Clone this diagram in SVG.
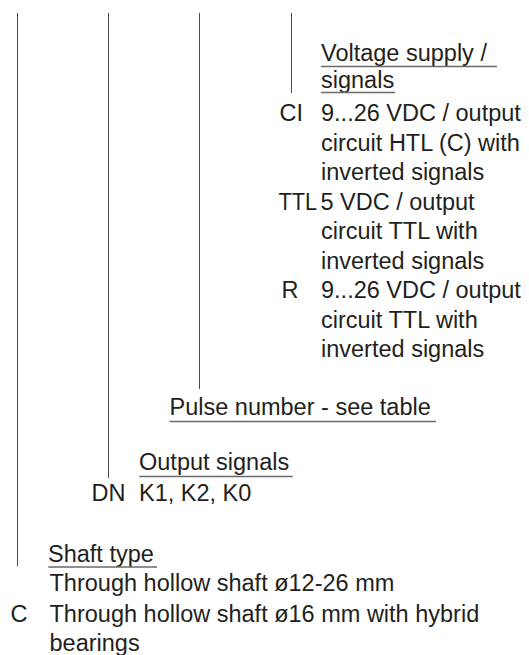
<svg xmlns="http://www.w3.org/2000/svg" width="529" height="655" viewBox="0 0 529 655">
<style>
  text { font-family: "Liberation Sans", Arial, "Helvetica", sans-serif; font-size: 23.5px; fill: #231f20; }
  .conn line { stroke: #4a4a4a; stroke-width: 1; fill: none; }
  .ul { stroke: #6a6a6a; stroke-width: 1.3; fill: none; }
</style>
<rect width="529" height="655" fill="#ffffff"/>
<g id="connectors" class="conn">
  <line x1="17.5" y1="13" x2="17.5" y2="566"/>
  <line x1="108.5" y1="13" x2="108.5" y2="478"/>
  <line x1="199.5" y1="13" x2="199.5" y2="389"/>
  <line x1="291.5" y1="13" x2="291.5" y2="93"/>
</g>
<g id="voltage-supply">
  <text x="321" y="61">Voltage supply /</text>
  <line class="ul" x1="321" y1="66.5" x2="497" y2="66.5"/>
  <text x="321" y="87.5">signals</text>
  <line class="ul" x1="321" y1="92.5" x2="395" y2="92.5"/>
  <text x="279.5" y="121">CI</text>
  <text x="321" y="121">9...26 VDC / output</text>
  <text x="321" y="150.5">circuit HTL (C) with</text>
  <text x="321" y="180">inverted signals</text>
  <text x="278.5" y="209.5" textLength="38.5" lengthAdjust="spacingAndGlyphs">TTL</text>
  <text x="320.5" y="209.5">5 VDC / output</text>
  <text x="321" y="239">circuit TTL with</text>
  <text x="321" y="268.5">inverted signals</text>
  <text x="281.5" y="298">R</text>
  <text x="321" y="298">9...26 VDC / output</text>
  <text x="321" y="327.5">circuit TTL with</text>
  <text x="321" y="357">inverted signals</text>
</g>
<g id="pulse-number">
  <text x="169.5" y="415">Pulse number - see table</text>
  <line class="ul" x1="169.5" y1="421.5" x2="436" y2="421.5"/>
</g>
<g id="output-signals">
  <text x="139" y="470">Output signals</text>
  <line class="ul" x1="139.3" y1="476.5" x2="292.7" y2="476.5"/>
  <text x="91.5" y="501">DN</text>
  <text x="139" y="501">K1, K2, K0</text>
</g>
<g id="shaft-type">
  <text x="48" y="561.5">Shaft type</text>
  <line class="ul" x1="48.3" y1="567" x2="157" y2="567"/>
  <text x="49.5" y="591">Through hollow shaft ø12-26 mm</text>
  <text x="10.5" y="621.5">C</text>
  <text x="49.5" y="621.5">Through hollow shaft ø16 mm with hybrid</text>
  <text x="49.5" y="651">bearings</text>
</g>
</svg>
